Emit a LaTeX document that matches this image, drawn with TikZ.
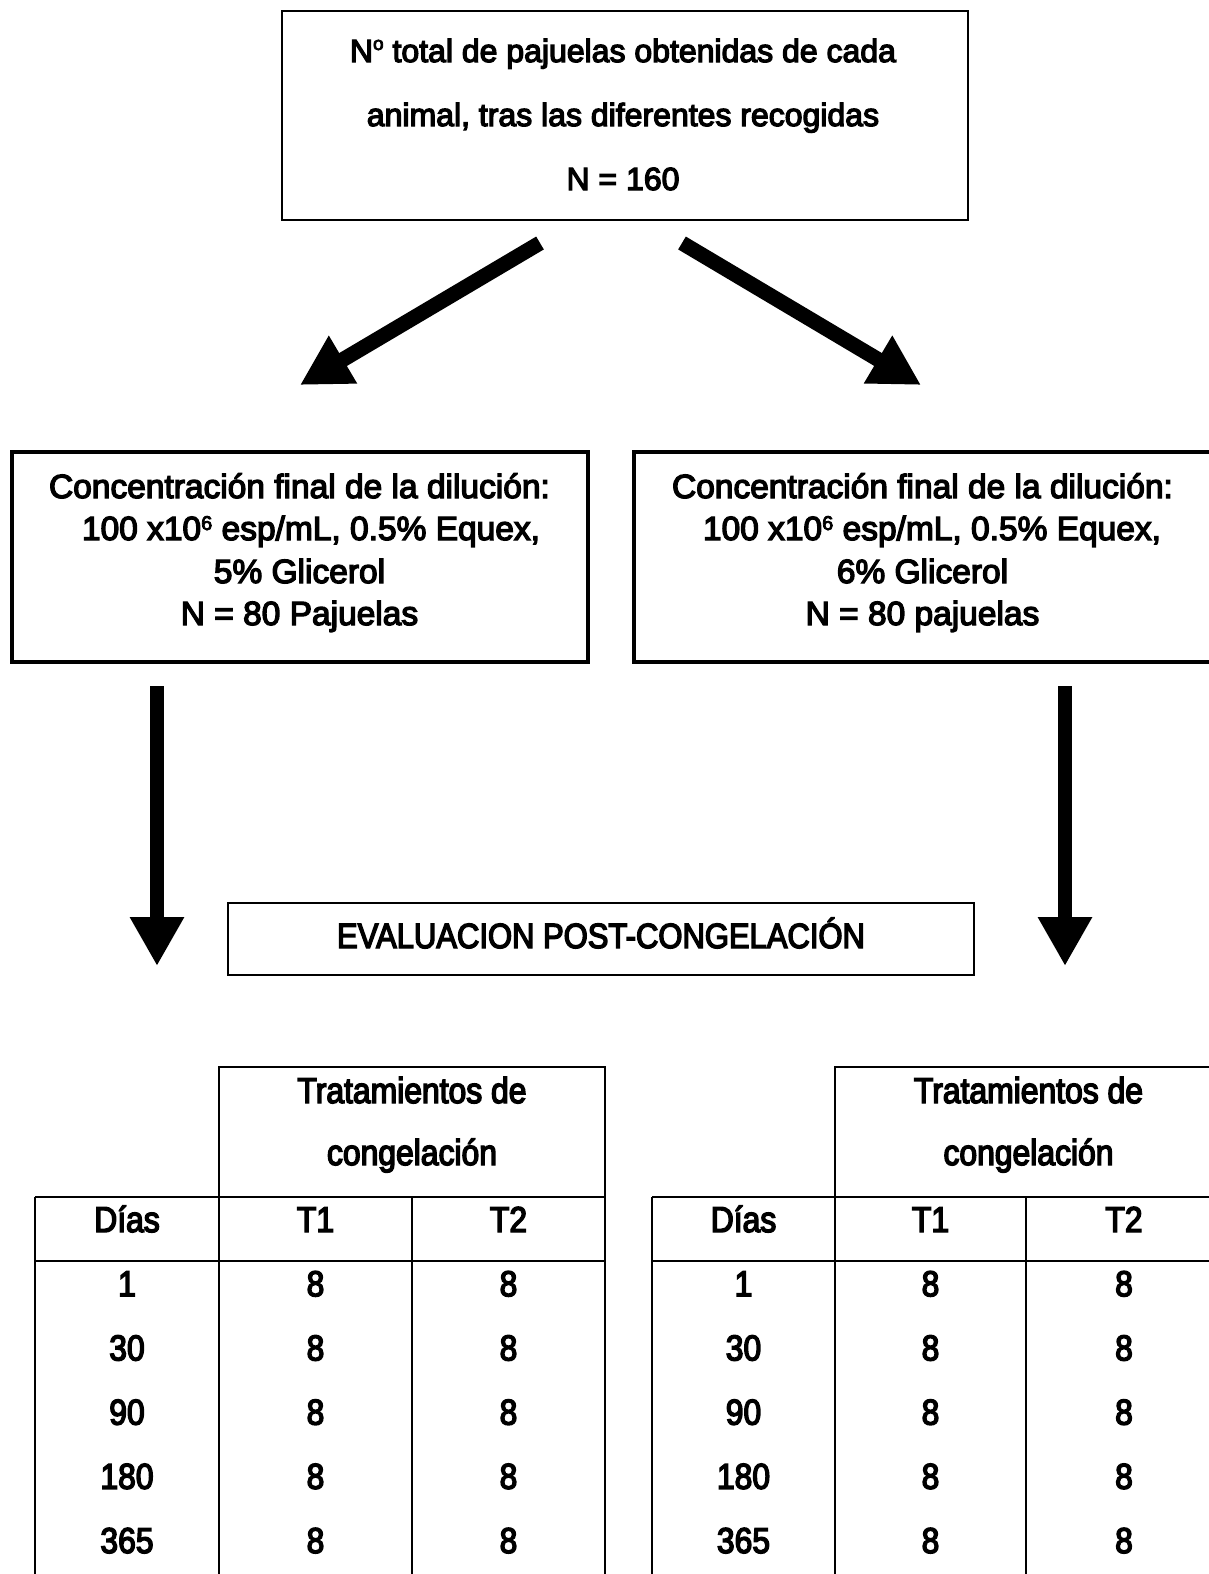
\documentclass[tikz,border=0pt]{standalone}
\usepackage{fontspec}
\setmainfont{Liberation Sans}
\newfontfamily\fA{Liberation Sans}[FakeBold=4]
\newfontfamily\fC{Liberation Sans}[FakeStretch=0.885,FakeBold=4]
\usetikzlibrary{arrows.meta}
\newcommand{\supsix}{\raisebox{10pt}{\fontsize{20}{20}\selectfont 6}}
\newcommand{\nord}{\raisebox{12pt}{\fontsize{19}{19}\selectfont o}}
\tikzset{
  boxthin/.style={draw, line width=2.2pt, inner sep=0pt},
  boxthick/.style={draw, line width=4pt, inner sep=0pt},
  boxeval/.style={draw, line width=2.6pt, inner sep=0pt},
  topline/.style={anchor=base, inner sep=0pt, font=\fA\fontsize{32}{38}\selectfont},
  midline/.style={anchor=base, inner sep=0pt, font=\fA\fontsize{33.5}{40}\selectfont},
  evalline/.style={anchor=base, inner sep=0pt, font=\fC\fontsize{35}{40}\selectfont},
  tabtxt/.style={anchor=base, inner sep=0pt, font=\fC\fontsize{36}{40}\selectfont},
  diagarrow/.style={line width=15pt, -{Triangle[length=50pt,width=52pt]}},
  downarrow/.style={line width=14pt, -{Triangle[length=49pt,width=51pt]}},
  tabline/.style={line width=1.8pt},
}
\begin{document}
\begin{tikzpicture}[x=1pt,y=-1pt]
\useasboundingbox (0,0) rectangle (1209,1574);

% top box
\node[boxthin, minimum width=686pt, minimum height=209pt] (top) at (625,115.5) {};
\node[topline] (top1) at (623,62) {N\nord{} total de pajuelas obtenidas de cada};
\node[topline] (top2) at (623,126) {animal, tras las diferentes recogidas};
\node[topline] (top3) at (623,190) {N = 160};

% diagonal arrows
\coordinate (al0) at (540,243);
\coordinate (al1) at (300,385);
\coordinate (ar0) at (682,243);
\coordinate (ar1) at (921,385);
\draw[diagarrow] (al0) -- (al1);
\draw[diagarrow] (ar0) -- (ar1);

% middle boxes
\node[boxthick, minimum width=576pt, minimum height=210pt] (mL) at (299.5,557) {};
\node[boxthick, minimum width=600pt, minimum height=210pt] (mR) at (934,557) {};
\node[midline] (mL1) at (299.5,498) {Concentración final de la dilución:};
\node[midline] (mL2) at (311,540) {100 x10\supsix{} esp/mL, 0.5\% Equex,};
\node[midline] (mL3) at (299.5,583) {5\% Glicerol};
\node[midline] (mL4) at (299.5,625) {N = 80 Pajuelas};
\node[midline] (mR1) at (922.5,498) {Concentración final de la dilución:};
\node[midline] (mR2) at (932,540) {100 x10\supsix{} esp/mL, 0.5\% Equex,};
\node[midline] (mR3) at (922.5,583) {6\% Glicerol};
\node[midline] (mR4) at (922.5,625) {N = 80 pajuelas};

% down arrows
\coordinate (dl0) at (157,686);
\coordinate (dl1) at (157,966);
\coordinate (dr0) at (1065,686);
\coordinate (dr1) at (1065,966);
\draw[downarrow] (dl0) -- (dl1);
\draw[downarrow] (dr0) -- (dr1);

% evaluation box
\node[boxeval, minimum width=746pt, minimum height=72pt] (ev) at (601,939) {};
\node[evalline] (evt) at (601,948) {EVALUACION POST-CONGELACIÓN};

% left table
\draw[tabline] (219,1590) -- (219,1067) -- (605,1067) -- (605,1590);
\draw[tabline] (35,1197) -- (605,1197);
\draw[tabline] (35,1261) -- (605,1261);
\draw[tabline] (35,1197) -- (35,1590);
\draw[tabline] (412,1197) -- (412,1590);
\node[tabtxt] (Lh1) at (412,1103) {Tratamientos de};
\node[tabtxt] (Lh2) at (412,1165) {congelación};
\node[tabtxt] (Ld) at (127,1232) {Días};
\node[tabtxt] (Lt1) at (315.5,1232) {T1};
\node[tabtxt] (Lt2) at (508.5,1232) {T2};
\foreach \d [count=\i] in {1,30,90,180,365} {
  \node[tabtxt] (Lr\i) at (127,1232+64.2*\i) {\d};
  \node[tabtxt] (La\i) at (315.5,1232+64.2*\i) {8};
  \node[tabtxt] (Lb\i) at (508.5,1232+64.2*\i) {8};
}

% right table
\draw[tabline] (835,1590) -- (835,1067) -- (1222,1067) -- (1222,1590);
\draw[tabline] (652,1197) -- (1222,1197);
\draw[tabline] (652,1261) -- (1222,1261);
\draw[tabline] (652,1197) -- (652,1590);
\draw[tabline] (1026,1197) -- (1026,1590);
\node[tabtxt] (Rh1) at (1028.5,1103) {Tratamientos de};
\node[tabtxt] (Rh2) at (1028.5,1165) {congelación};
\node[tabtxt] (Rd) at (743.5,1232) {Días};
\node[tabtxt] (Rt1) at (930.5,1232) {T1};
\node[tabtxt] (Rt2) at (1124,1232) {T2};
\foreach \d [count=\i] in {1,30,90,180,365} {
  \node[tabtxt] (Rr\i) at (743.5,1232+64.2*\i) {\d};
  \node[tabtxt] (Ra\i) at (930.5,1232+64.2*\i) {8};
  \node[tabtxt] (Rb\i) at (1124,1232+64.2*\i) {8};
}
\end{tikzpicture}
\end{document}
